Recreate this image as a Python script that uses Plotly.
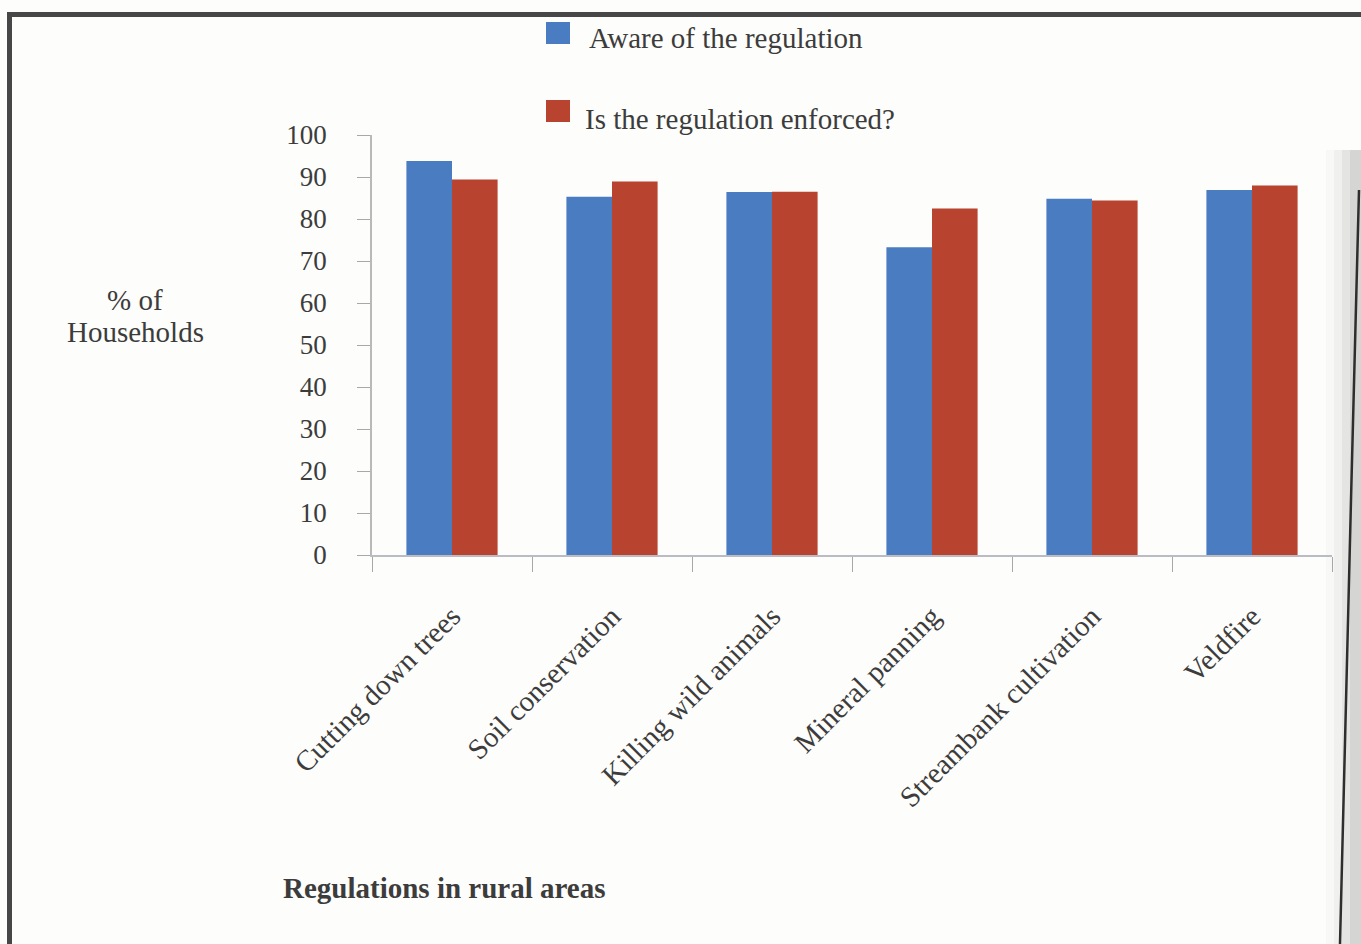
import plotly.graph_objects as go

# Survey results: share of households per rural regulation
categories = [
    "Cutting down trees",
    "Soil conservation",
    "Killing wild animals",
    "Mineral panning",
    "Streambank cultivation",
    "Veldfire",
]
aware = [93.8, 85.3, 86.4, 73.3, 84.8, 86.9]
enforced = [89.4, 88.9, 86.5, 82.5, 84.4, 88.0]

series_names = ["Aware of the regulation", "Is the regulation enforced?"]
y_ticks = list(range(0, 101, 10))

BLUE = "#4a7cc1"
RED = "#b8432f"
INK = "#3c3c3c"
SERIF = "Liberation Serif, Times New Roman, serif"
W, H = 1361, 944
ML, MR, MT, MB = 372, 29, 135, 389
PW, PH = W - ML - MR, H - MT - MB


def px(x):
    """Page pixel column -> paper x."""
    return (x - ML) / PW


def py(y):
    """Page pixel row (from top) -> paper y."""
    return (H - MB - y) / PH


fig = go.Figure()
fig.add_trace(go.Bar(x=categories, y=aware, name=series_names[0],
                     marker=dict(color=BLUE, line=dict(width=0))))
fig.add_trace(go.Bar(x=categories, y=enforced, name=series_names[1],
                     marker=dict(color=RED, line=dict(width=0))))

fig.update_layout(
    width=W, height=H,
    margin=dict(l=ML, r=MR, t=MT, b=MB),
    paper_bgcolor="#fdfdfb",
    plot_bgcolor="#fdfdfb",
    barmode="group",
    bargap=0.43,
    bargroupgap=0,
    showlegend=False,
    font=dict(family=SERIF, color=INK, size=29),
)

fig.update_xaxes(
    type="category",
    tickangle=-45,
    tickfont=dict(family=SERIF, size=29, color=INK),
    showline=True, linecolor="#b9bcc2", linewidth=1.5,
    ticks="outside", tickson="boundaries", ticklen=15,
    tickcolor="#a8a8a8", tickwidth=1.2,
    ticklabelstandoff=31,
    showgrid=False,
)
fig.update_yaxes(
    range=[0, 100],
    tickvals=y_ticks,
    tickfont=dict(family=SERIF, size=27, color=INK),
    showline=True, linecolor="#b9b9b9", linewidth=1.5,
    ticks="outside", ticklen=13, tickcolor="#a8a8a8", tickwidth=1.2,
    ticklabelstandoff=25,
    showgrid=False, zeroline=False,
)

# Horizontal y-axis caption, two centred lines
for line_text, row in [("% of", 300), ("Households", 332)]:
    fig.add_annotation(
        x=px(135), y=py(row), xref="paper", yref="paper",
        text=line_text, showarrow=False,
        xanchor="center", yanchor="middle", align="center",
        font=dict(family=SERIF, size=29, color=INK),
    )

# x-axis caption in bold
fig.add_annotation(
    x=px(281), y=py(888), xref="paper", yref="paper",
    text="<b>Regulations in rural areas</b>", showarrow=False,
    xanchor="left", yanchor="middle",
    font=dict(family=SERIF, size=29, color=INK),
)

# Legend drawn as swatches with labels, stacked at the top
legend_rows = [(series_names[0], BLUE, 33, 587, 38), (series_names[1], RED, 111, 583, 119)]
shapes = []
for label, color, sq_mid, txt_x, txt_mid in legend_rows:
    shapes.append(dict(type="rect", xref="paper", yref="paper",
                       x0=px(546), x1=px(570),
                       y0=py(sq_mid + 11), y1=py(sq_mid - 11),
                       fillcolor=color, line=dict(width=0)))
    fig.add_annotation(
        x=px(txt_x), y=py(txt_mid), xref="paper", yref="paper",
        text=label, showarrow=False, xanchor="left", yanchor="middle",
        font=dict(family=SERIF, size=29, color=INK),
    )

# Page frame: dark rule along the top and the left edge
shapes.append(dict(type="rect", xref="paper", yref="paper",
                   x0=px(7), x1=px(W), y0=py(17), y1=py(12),
                   fillcolor="#474747", line=dict(width=0)))
shapes.append(dict(type="rect", xref="paper", yref="paper",
                   x0=px(7), x1=px(12), y0=py(H), y1=py(12),
                   fillcolor="#474747", line=dict(width=0)))

# Shading of the page curl at the right edge
for x0, alpha in [(1326, 0.03), (1334, 0.05), (1342, 0.08), (1350, 0.11)]:
    shapes.append(dict(type="rect", xref="paper", yref="paper",
                       x0=px(x0), x1=px(W), y0=py(H), y1=py(150),
                       fillcolor=f"rgba(90,90,90,{alpha})", line=dict(width=0),
                       layer="below"))
shapes.append(dict(type="path", xref="paper", yref="paper",
                   path=f"M {px(1359)},{py(190)} L {px(1351)},{py(500)} L {px(1340)},{py(H)}",
                   line=dict(color="#2e2e2e", width=2.5)))

fig.update_layout(shapes=shapes)

fig.write_html("out.html")
